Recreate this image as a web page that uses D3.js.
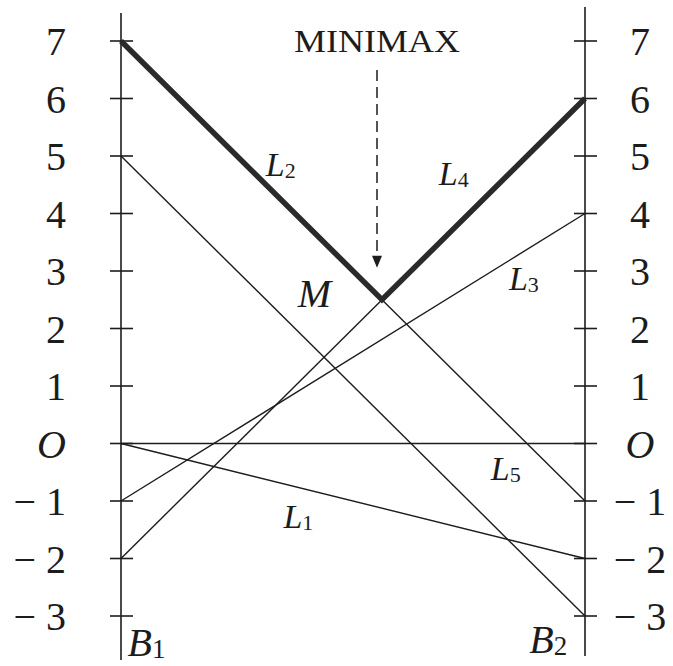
<!DOCTYPE html>
<html>
<head>
<meta charset="utf-8">
<script src="https://cdn.jsdelivr.net/npm/d3@7"></script>
<style>
  body { margin: 0; background: #fff; }
  svg { display: block; font-family: "Liberation Serif", "DejaVu Serif", serif; }
</style>
</head>
<body>
<div id="chart"></div>
<script>
// strategy lines: value at B1 (left axis) and at B2 (right axis)
const lineNames = ["L1", "L2", "L3", "L4", "L5"];
const valuesB1 = [0, 7, -1, -2, 5];
const valuesB2 = [-2, -1, 4, 6, -3];
const baseLine = [0, 0];
const tickValues = [-3, -2, -1, 0, 1, 2, 3, 4, 5, 6, 7];
const tickLabels = ["\u2212 3", "\u2212 2", "\u2212 1", "O", "1", "2", "3", "4", "5", "6", "7"];

const width = 673, height = 666;
const ink = "#1c1c1c";

const svg = d3.select("#chart").append("svg")
    .attr("width", width)
    .attr("height", height);

const x = d3.scaleLinear().domain([0, 1]).range([121, 585]);
const y = d3.scaleLinear().domain([-3, 7]).range([616, 41]);

const lines = lineNames.map((name, i) => ({ name, a: valuesB1[i], b: valuesB2[i] }));
const valueAt = (l, t) => l.a + (l.b - l.a) * t;

// upper envelope of all lines, its lowest point is the minimax
let cuts = [0, 1];
lines.forEach((p, i) => lines.forEach((q, j) => {
    if (j <= i) return;
    const den = (p.b - p.a) - (q.b - q.a);
    if (den === 0) return;
    const t = (q.a - p.a) / den;
    if (t > 0 && t < 1) cuts.push(t);
}));
cuts.sort((a, b) => a - b);
const envelope = cuts.map(t => [t, d3.max(lines, l => valueAt(l, t))])
    .filter((p, i, arr) => {
        if (i === 0 || i === arr.length - 1) return true;
        // keep only corners
        const s1 = (p[1] - arr[i - 1][1]) / (p[0] - arr[i - 1][0]);
        const s2 = (arr[i + 1][1] - p[1]) / (arr[i + 1][0] - p[0]);
        return Math.abs(s1 - s2) > 1e-9;
    });
const minimax = d3.least(envelope, d => d[1]);

// axes
[0, 1].forEach(side => {
    const g = svg.append("g").attr("class", side ? "axis-b2" : "axis-b1");
    g.append("line")
        .attr("x1", x(side)).attr("x2", x(side))
        .attr("y1", y(7) - 28 - side * 6).attr("y2", y(-3) + 44 - side * 4)
        .attr("stroke", ink).attr("stroke-width", 1.6);
    g.selectAll(".tick").data(tickValues).enter().append("line")
        .attr("x1", x(side) - 11).attr("x2", x(side) + 12)
        .attr("y1", d => y(d)).attr("y2", d => y(d))
        .attr("stroke", ink).attr("stroke-width", 1.6);
    g.selectAll(".lbl").data(tickValues).enter().append("text")
        .attr("x", side ? x(side) + 55 : x(side) - 55)
        .attr("y", d => y(d))
        .attr("dy", "0.36em")
        .attr("text-anchor", side ? "middle" : "end")
        .attr("font-size", 40)
        .attr("font-style", (d, i) => tickLabels[i] === "O" ? "italic" : "normal")
        .attr("fill", ink)
        .text((d, i) => tickLabels[i]);
});

// thin lines
svg.append("line")
    .attr("x1", x(0)).attr("x2", x(1))
    .attr("y1", y(baseLine[0])).attr("y2", y(baseLine[1]))
    .attr("stroke", ink).attr("stroke-width", 1.5);

svg.selectAll(".strategy").data(lines).enter().append("line")
    .attr("class", "strategy")
    .attr("x1", x(0)).attr("x2", x(1))
    .attr("y1", d => y(d.a)).attr("y2", d => y(d.b))
    .attr("stroke", ink).attr("stroke-width", 1.4);

// thick minimax envelope
svg.append("path")
    .datum(envelope)
    .attr("d", d3.line().x(d => x(d[0])).y(d => y(d[1])))
    .attr("fill", "none")
    .attr("stroke", "#2a2a2a")
    .attr("stroke-width", 5.5)
    .attr("stroke-linejoin", "miter");

// MINIMAX title and dashed arrow
const mx = x(minimax[0]) - 5;
svg.append("text")
    .attr("x", mx).attr("y", 52)
    .attr("text-anchor", "middle")
    .attr("font-size", 31)
    .attr("textLength", 166)
    .attr("lengthAdjust", "spacingAndGlyphs")
    .attr("fill", ink)
    .text("MINIMAX");

const tipY = y(minimax[1]) - 32;
svg.append("line")
    .attr("x1", mx).attr("x2", mx)
    .attr("y1", 70).attr("y2", tipY - 10)
    .attr("stroke", ink).attr("stroke-width", 1.5)
    .attr("stroke-dasharray", "11,6");
svg.append("path")
    .attr("d", `M${mx - 5},${tipY - 12}L${mx + 5},${tipY - 12}L${mx},${tipY}Z`)
    .attr("fill", ink);

// labels
function subLabel(main, sub, t, v, size, subSize) {
    const txt = svg.append("text")
        .attr("x", x(t)).attr("y", y(v))
        .attr("font-size", size)
        .attr("fill", ink);
    txt.append("tspan").attr("font-style", "italic").text(main);
    if (sub) txt.append("tspan").attr("font-size", subSize).attr("dy", 2).text(sub);
}

const labelSpots = {
    L1: [0.350, -1.47], L2: [0.312, 4.65], L3: [0.836, 2.67],
    L4: [0.685, 4.5], L5: [0.797, -0.63]
};
lineNames.forEach(n => subLabel("L", n.slice(1), labelSpots[n][0], labelSpots[n][1], 34, 22));

subLabel("M", "", 0.381, 2.37, 40);
subLabel("B", "1", 0.014, -3.69, 40, 27);
subLabel("B", "2", 0.88, -3.64, 40, 27);
</script>
</body>
</html>
